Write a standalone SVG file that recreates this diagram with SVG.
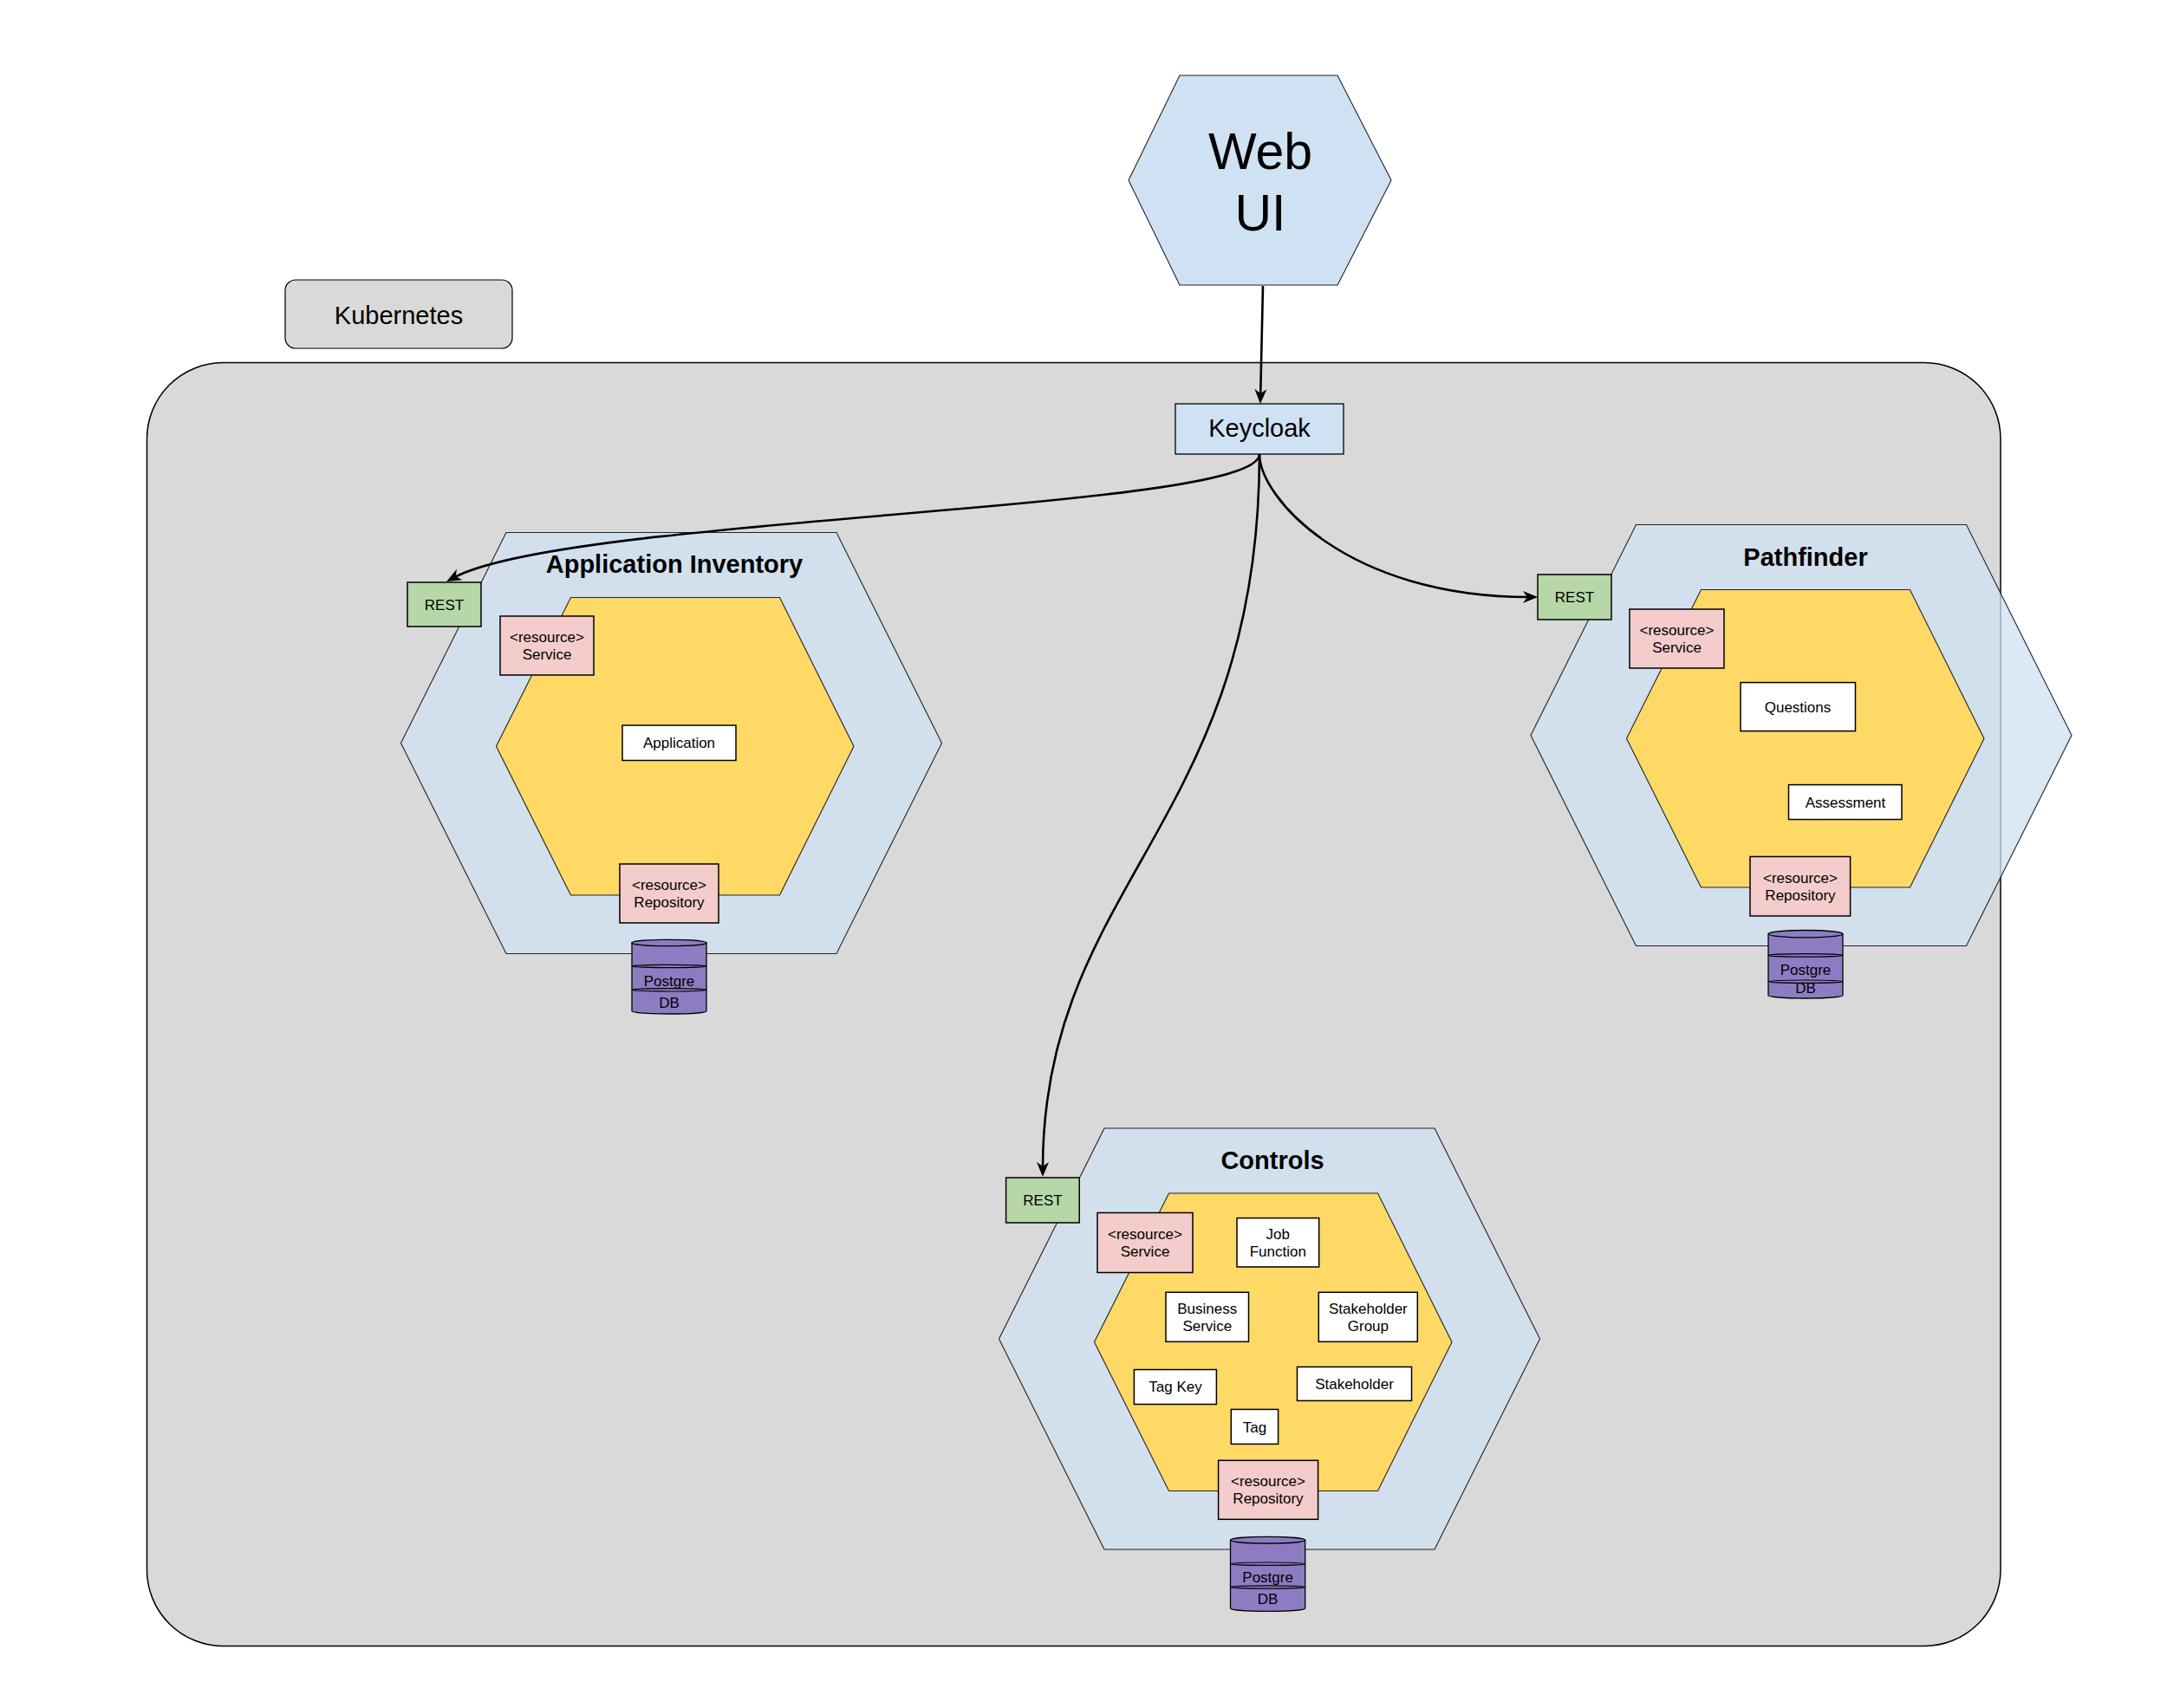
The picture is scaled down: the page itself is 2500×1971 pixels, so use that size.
<svg xmlns="http://www.w3.org/2000/svg" xmlns:xlink="http://www.w3.org/1999/xlink" width="2500" height="1971" viewBox="0 0 2500 1971">
<style>
text{font-family:"Liberation Sans",Arial,sans-serif;fill:#000;text-anchor:middle}
.s{font-size:17px}
.m{font-size:29px}
.b{font-size:29px;font-weight:bold}
.xl{font-size:59px}
.outer{fill:#cfe2f3;fill-opacity:0.75;stroke:#222;stroke-width:1.1}
.inner{fill:#ffd966;stroke:#222;stroke-width:1.1}
.rest{fill:#b6d7a8;stroke:#000;stroke-width:1.5}
.res{fill:#f4cccc;stroke:#000;stroke-width:1.5}
.ent{fill:#fff;stroke:#000;stroke-width:1.5}
.blue{fill:#cfe2f3;stroke:#000;stroke-width:1.3}
.db{fill:#8e7cc3;stroke:#000;stroke-width:1.3}
.band{fill:none;stroke:#000;stroke-width:1.2}
.conn{fill:none;stroke:#000;stroke-width:2.6;marker-end:url(#arr)}
</style>
<defs>
<polygon id="outerHex" points="0,243 121.5,0 502.5,0 624,243 502.5,486 121.5,486"/>
<polygon id="innerHex" points="0,171.75 86,0 327,0 412.5,171.75 327,343.5 86,343.5"/>
<marker id="arr" markerUnits="userSpaceOnUse" markerWidth="20" markerHeight="20" viewBox="0 0 20 20" refX="7" refY="8" orient="auto" overflow="visible">
<path d="M0,1 L17,8 L0,15 L5,8 Z" fill="#000"/>
</marker>
</defs>
<rect width="2500" height="1971" fill="#fff"/>

<g id="kubernetes-cluster">
<rect x="169.5" y="418.5" width="2138.5" height="1481" rx="88" ry="88" fill="#d9d9d9" stroke="#000" stroke-width="1.5"/>
</g>

<g id="kubernetes-label">
<rect x="329" y="323" width="262" height="79" rx="12" ry="12" fill="#d9d9d9" stroke="#000" stroke-width="1.2"/>
<text class="m" x="460" y="374">Kubernetes</text>
</g>

<g id="web-ui">
<polygon points="1302,208 1361,87 1543,87 1605,208 1543,329 1361,329" fill="#cfe2f3" stroke="#222" stroke-width="1.1"/>
<text class="xl" x="1454" y="195">Web</text>
<text class="xl" x="1454" y="266">UI</text>
</g>

<g id="keycloak">
<rect class="blue" x="1356" y="466" width="194" height="58"/>
<text class="m" x="1453" y="504">Keycloak</text>
</g>

<g id="application-inventory">
<use href="#outerHex" class="outer" x="462.5" y="614.5"/>
<use href="#innerHex" class="inner" x="572.5" y="689.5"/>
<text class="b" x="778" y="661">Application Inventory</text>
<rect class="rest" x="470" y="672" width="85" height="51"/>
<text class="s" x="512.5" y="703.5">REST</text>
<rect class="res" x="577" y="711" width="108" height="68"/>
<text class="s" x="631" y="741">&lt;resource&gt;</text>
<text class="s" x="631" y="761">Service</text>
<rect class="ent" x="718" y="837" width="131" height="40.5"/>
<text class="s" x="783.5" y="863">Application</text>
<rect class="res" x="715" y="997" width="114" height="68"/>
<text class="s" x="772" y="1027">&lt;resource&gt;</text>
<text class="s" x="772" y="1047">Repository</text>
<g id="app-db">
<path class="db" d="M729,1088 L729,1166.7 A43,3.3 0 0 0 815,1166.7 L815,1088 Z"/>
<ellipse class="db" cx="772" cy="1088" rx="43" ry="3.7"/>
<ellipse class="band" cx="772" cy="1115" rx="43" ry="1.7"/>
<ellipse class="band" cx="772" cy="1142.3" rx="43" ry="1.7"/>
<text class="s" x="772" y="1137.7">Postgre</text>
<text class="s" x="772" y="1162.7">DB</text>
</g>
</g>

<g id="pathfinder">
<use href="#outerHex" class="outer" x="1766" y="605.5"/>
<use href="#innerHex" class="inner" x="1876.5" y="680.5"/>
<text class="b" x="2083" y="653">Pathfinder</text>
<rect class="rest" x="1774" y="663" width="85" height="52"/>
<text class="s" x="1816.5" y="695">REST</text>
<rect class="res" x="1880" y="703" width="109" height="68"/>
<text class="s" x="1934.5" y="733">&lt;resource&gt;</text>
<text class="s" x="1934.5" y="753">Service</text>
<rect class="ent" x="2008" y="787.6" width="132.5" height="56"/>
<text class="s" x="2074" y="821.5">Questions</text>
<rect class="ent" x="2063.5" y="905.6" width="130.5" height="40"/>
<text class="s" x="2129" y="931.5">Assessment</text>
<rect class="res" x="2019" y="988.5" width="115.6" height="68.5"/>
<text class="s" x="2077" y="1018.7">&lt;resource&gt;</text>
<text class="s" x="2077" y="1038.7">Repository</text>
<g id="pathfinder-db">
<path class="db" d="M2040,1077.7 L2040,1148.5 A43,3.5 0 0 0 2126,1148.5 L2126,1077.7 Z"/>
<ellipse class="db" cx="2083" cy="1077.7" rx="43" ry="4.2"/>
<ellipse class="band" cx="2083" cy="1102.4" rx="43" ry="1.7"/>
<ellipse class="band" cx="2083" cy="1132.7" rx="43" ry="1.7"/>
<text class="s" x="2083" y="1125">Postgre</text>
<text class="s" x="2083" y="1146">DB</text>
</g>
</g>

<g id="controls">
<use href="#outerHex" class="outer" x="1152.5" y="1302"/>
<use href="#innerHex" class="inner" x="1262.5" y="1377"/>
<text class="b" x="1468" y="1349">Controls</text>
<rect class="rest" x="1160.6" y="1359" width="84.6" height="52"/>
<text class="s" x="1203" y="1391">REST</text>
<rect class="res" x="1266" y="1399.5" width="110" height="69"/>
<text class="s" x="1321" y="1430">&lt;resource&gt;</text>
<text class="s" x="1321" y="1450">Service</text>
<rect class="ent" x="1427" y="1405.6" width="94.7" height="56.4"/>
<text class="s" x="1474.3" y="1430">Job</text>
<text class="s" x="1474.3" y="1450">Function</text>
<rect class="ent" x="1345" y="1491.3" width="95.5" height="57"/>
<text class="s" x="1392.75" y="1516">Business</text>
<text class="s" x="1392.75" y="1536">Service</text>
<rect class="ent" x="1521.3" y="1491.3" width="114" height="57"/>
<text class="s" x="1578.4" y="1516">Stakeholder</text>
<text class="s" x="1578.4" y="1536">Group</text>
<rect class="ent" x="1308.4" y="1580.5" width="95" height="40"/>
<text class="s" x="1356" y="1606.4">Tag Key</text>
<rect class="ent" x="1496.5" y="1577.4" width="132" height="39"/>
<text class="s" x="1562.5" y="1603">Stakeholder</text>
<rect class="ent" x="1420.3" y="1626.4" width="54.3" height="40"/>
<text class="s" x="1447.5" y="1652.5">Tag</text>
<rect class="res" x="1405.6" y="1685.3" width="115" height="68"/>
<text class="s" x="1463" y="1715.4">&lt;resource&gt;</text>
<text class="s" x="1463" y="1735.4">Repository</text>
<g id="controls-db">
<path class="db" d="M1419.5,1777.2 L1419.5,1856 A43.1,3.4 0 0 0 1505.7,1856 L1505.7,1777.2 Z"/>
<ellipse class="db" cx="1462.6" cy="1777.2" rx="43.1" ry="3.8"/>
<ellipse class="band" cx="1462.6" cy="1804.7" rx="43.1" ry="1.7"/>
<ellipse class="band" cx="1462.6" cy="1831.5" rx="43.1" ry="1.7"/>
<text class="s" x="1462.6" y="1826">Postgre</text>
<text class="s" x="1462.6" y="1851">DB</text>
</g>
</g>

<g id="connectors">
<path class="conn" d="M1457,330 L1454.2,456"/>
<path class="conn" d="M1453,524 C1453,590 659,595 524,666.3"/>
<path class="conn" d="M1453,524 C1453,574 1554,689 1764,689"/>
<path class="conn" d="M1453,524 C1453,950 1203,1020 1203,1348"/>
</g>
</svg>
